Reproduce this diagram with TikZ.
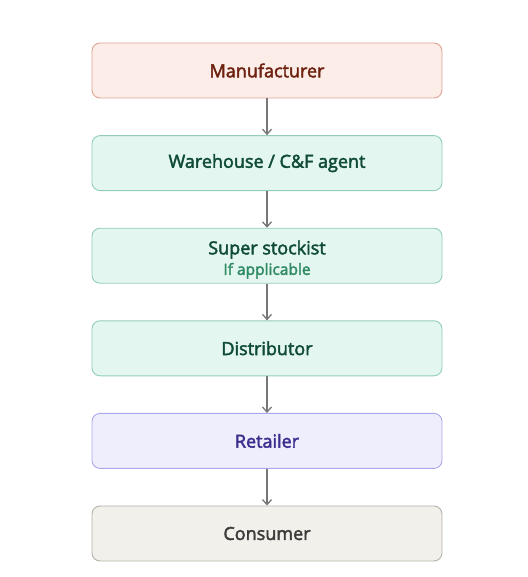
\documentclass[tikz,border=0pt]{standalone}
\usepackage{fontspec}
\setmainfont{Open Sans}
\newfontfamily\stagefont{Open Sans}[FakeBold=2.4]
\usetikzlibrary{positioning,arrows.meta}
\definecolor{mfFill}{HTML}{FCEDE9}
\definecolor{mfLine}{HTML}{DDA493}
\definecolor{mfText}{HTML}{6E2210}
\definecolor{gnFill}{HTML}{E3F6EF}
\definecolor{gnLine}{HTML}{92CFB6}
\definecolor{gnText}{HTML}{0F4B37}
\definecolor{gnSub}{HTML}{2F8A64}
\definecolor{rtFill}{HTML}{EFEEFD}
\definecolor{rtLine}{HTML}{ABA6EE}
\definecolor{rtText}{HTML}{3B2F8E}
\definecolor{csFill}{HTML}{F2F0EA}
\definecolor{csLine}{HTML}{B4B1A9}
\definecolor{csText}{HTML}{3C3C3C}
\definecolor{arGray}{HTML}{777777}
\tikzset{
  stage/.style={draw, rounded corners=8pt, line width=0.9pt, minimum width=350pt,
    minimum height=55pt, align=center, font=\stagefont\fontsize{18}{20.5}\selectfont},
  flow/.style={draw=arGray, line width=1.3pt, -{Straight Barb[length=5pt,width=9pt]}}
}
\begin{document}
\begin{tikzpicture}[node distance=36.7pt]
			%%%%% START %%%%%
			
			\useasboundingbox (0,0) rectangle (527pt,-577pt);
			
			\node[stage, fill=mfFill, draw=mfLine, text=mfText] (manufacturer) at (267pt,-70.5pt) {Manufacturer};
			\node[stage, fill=gnFill, draw=gnLine, text=gnText, below=of manufacturer] (warehouse) {Warehouse / C\&F agent};
			\node[stage, fill=gnFill, draw=gnLine, text=gnText, below=of warehouse] (stockist) {\rule{0pt}{21.5pt}Super stockist\\{\fontsize{15.5}{16}\selectfont\color{gnSub}If applicable}};
			\node[stage, fill=gnFill, draw=gnLine, text=gnText, below=of stockist] (distributor) {Distributor};
			\node[stage, fill=rtFill, draw=rtLine, text=rtText, below=of distributor] (retailer) {Retailer};
			\node[stage, fill=csFill, draw=csLine, text=csText, below=of retailer] (consumer) {Consumer};
			
			\draw[flow] (manufacturer) -- (warehouse);
			\draw[flow] (warehouse) -- (stockist);
			\draw[flow] (stockist) -- (distributor);
			\draw[flow] (distributor) -- (retailer);
			\draw[flow] (retailer) -- (consumer);
			
			%%%%% END %%%%%
\end{tikzpicture}
\end{document}
